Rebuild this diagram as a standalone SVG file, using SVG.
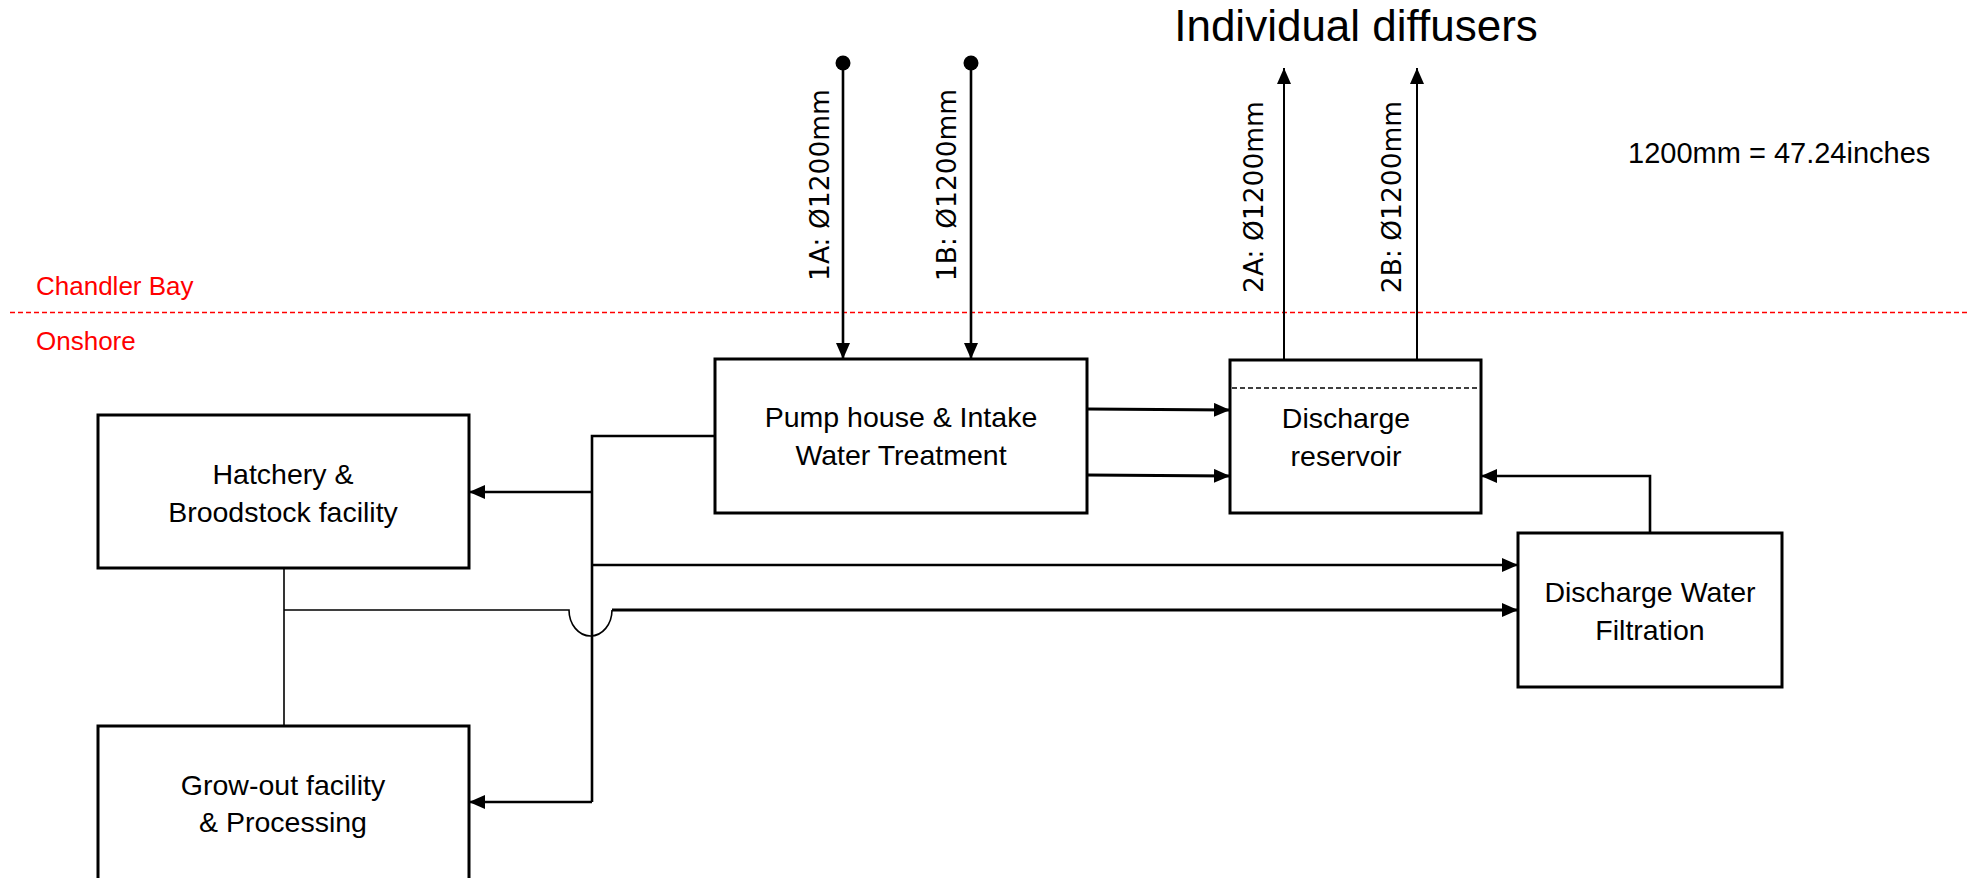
<svg xmlns="http://www.w3.org/2000/svg" width="1970" height="878" viewBox="0 0 1970 878">
<style>
text{font-family:"Liberation Sans",Arial,sans-serif;fill:#000}
.lbl{font-size:28.5px;text-anchor:middle}
.pipe{font-family:"DejaVu Sans",Verdana,sans-serif;font-size:26.5px;text-anchor:middle}
.red{fill:#ff0000;font-size:26px}
.box{fill:#fff;stroke:#000;stroke-width:3}
.c{fill:none;stroke:#000;stroke-width:2.6}
.t{fill:none;stroke:#000;stroke-width:1.6}
.arr{marker-end:url(#ah)}
</style>
<defs>
<marker id="ah" markerUnits="userSpaceOnUse" markerWidth="16" markerHeight="14" refX="16" refY="7" orient="auto">
<path d="M0,0 L16,7 L0,14 Z" fill="#000"/>
</marker>
</defs>
<rect width="1970" height="878" fill="#fff"/>
<g id="zones">
<line x1="10" y1="312.5" x2="1970" y2="312.5" stroke="#ff0000" stroke-width="1.6" stroke-dasharray="5 3"/>
<text class="red" x="36" y="295">Chandler Bay</text>
<text class="red" x="36" y="350">Onshore</text>
</g>
<text id="title" x="1356" y="41" style="font-size:44px;text-anchor:middle">Individual diffusers</text>
<text id="note" x="1628" y="163" style="font-size:29px">1200mm = 47.24inches</text>
<g id="connectors">
<circle cx="843" cy="63" r="7.5" fill="#000"/>
<circle cx="971" cy="63" r="7.5" fill="#000"/>
<path class="c arr" d="M843,63 V359"/>
<path class="c arr" d="M971,63 V359"/>
<path class="c arr" d="M1284,360 V68" style="stroke-width:2"/>
<path class="c arr" d="M1417,360 V68" style="stroke-width:2"/>
<path class="c arr" d="M1087,409 L1230,410" style="stroke-width:3"/>
<path class="c arr" d="M1087,475 L1230,476" style="stroke-width:3"/>
<path class="c arr" d="M1650,533 V476 H1481"/>
<path class="c" d="M715,436 H592 V802"/>
<path class="c arr" d="M592,492 H469"/>
<path class="c arr" d="M592,565 H1518"/>
<path class="c arr" d="M592,802 H469"/>
<path class="t" d="M284,568 V726"/>
<path class="t" d="M284,610 H569 A21.5,26 0 0 0 612,610"/>
<path class="c arr" d="M612,610 H1518" style="stroke-width:3"/>
</g>
<g id="pump">
<rect class="box" x="715" y="359" width="372" height="154"/>
<text class="lbl" x="901" y="427">Pump house &amp; Intake</text>
<text class="lbl" x="901" y="465">Water Treatment</text>
</g>
<g id="reservoir">
<rect class="box" x="1230" y="360" width="251" height="153"/>
<line x1="1232" y1="388" x2="1479" y2="388" stroke="#000" stroke-width="1.5" stroke-dasharray="5 3"/>
<text class="lbl" x="1346" y="428">Discharge</text>
<text class="lbl" x="1346" y="466">reservoir</text>
</g>
<g id="filtration">
<rect class="box" x="1518" y="533" width="264" height="154"/>
<text class="lbl" x="1650" y="602">Discharge Water</text>
<text class="lbl" x="1650" y="640">Filtration</text>
</g>
<g id="hatchery">
<rect class="box" x="98" y="415" width="371" height="153"/>
<text class="lbl" x="283" y="484">Hatchery &amp;</text>
<text class="lbl" x="283" y="522">Broodstock facility</text>
</g>
<g id="growout">
<rect class="box" x="98" y="726" width="371" height="160"/>
<text class="lbl" x="283" y="795">Grow-out facility</text>
<text class="lbl" x="283" y="832">&amp; Processing</text>
</g>
<g id="pipe-labels">
<text class="pipe" transform="translate(829,185) rotate(-90)">1A: Ø1200mm</text>
<text class="pipe" transform="translate(956,185) rotate(-90)">1B: Ø1200mm</text>
<text class="pipe" transform="translate(1263,197) rotate(-90)">2A: Ø1200mm</text>
<text class="pipe" transform="translate(1401,197) rotate(-90)">2B: Ø1200mm</text>
</g>
</svg>
